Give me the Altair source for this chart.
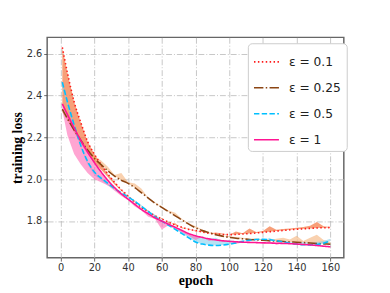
import altair as alt
import pandas as pd

epochs = [1, 4, 8, 12, 16, 20, 24, 28, 32, 36, 40, 44, 48, 52, 56, 60, 64, 68, 72, 76, 80,
          84, 88, 92, 96, 100, 104, 108, 112, 116, 120, 124, 128, 132, 136, 140, 144, 148, 152, 156, 160]

labels = ["ε = 0.1", "ε = 0.25", "ε = 0.5", "ε = 1"]

fit_01 = [2.63, 2.51, 2.37, 2.27, 2.18, 2.12, 2.07, 2.025, 1.985, 1.95, 1.92, 1.89, 1.865, 1.845, 1.825, 1.81,
          1.795, 1.78, 1.77, 1.76, 1.755, 1.748, 1.742, 1.738, 1.736, 1.735, 1.736, 1.738, 1.740, 1.743, 1.746,
          1.749, 1.752, 1.755, 1.758, 1.761, 1.763, 1.765, 1.767, 1.768, 1.769]
raw_01 = [2.36, 2.29, 2.225, 2.17, 2.12, 2.08, 2.045, 2.01, 1.975, 1.945, 1.915, 1.895, 1.86, 1.85, 1.82, 1.815,
          1.79, 1.79, 1.765, 1.765, 1.75, 1.755, 1.74, 1.745, 1.74, 1.735, 1.75, 1.742, 1.765, 1.748, 1.752,
          1.775, 1.758, 1.762, 1.765, 1.768, 1.772, 1.778, 1.795, 1.775, 1.772]

fit_025 = [2.335, 2.29, 2.235, 2.185, 2.14, 2.10, 2.07, 2.04, 2.015, 1.995, 1.98, 1.96, 1.935, 1.91, 1.885, 1.865,
           1.845, 1.825, 1.805, 1.785, 1.768, 1.755, 1.745, 1.735, 1.728, 1.722, 1.718, 1.715, 1.712, 1.71, 1.708,
           1.706, 1.704, 1.702, 1.70, 1.699, 1.697, 1.695, 1.693, 1.691, 1.689]
raw_025 = [2.32, 2.28, 2.23, 2.19, 2.145, 2.11, 2.09, 2.06, 2.02, 2.03, 1.985, 1.98, 1.955, 1.91, 1.89, 1.87,
           1.85, 1.84, 1.81, 1.79, 1.775, 1.76, 1.748, 1.74, 1.73, 1.728, 1.722, 1.72, 1.715, 1.718, 1.712,
           1.71, 1.715, 1.72, 1.712, 1.73, 1.705, 1.72, 1.735, 1.71, 1.70]

fit_05 = [2.464, 2.37, 2.26, 2.16, 2.085, 2.035, 2.005, 1.98, 1.955, 1.935, 1.915, 1.895, 1.87, 1.845, 1.82, 1.80,
          1.78, 1.76, 1.74, 1.72, 1.70, 1.69, 1.685, 1.683, 1.685, 1.689, 1.695, 1.702, 1.708, 1.712, 1.713,
          1.711, 1.706, 1.70, 1.695, 1.69, 1.687, 1.686, 1.688, 1.694, 1.705]
raw_05 = [2.44, 2.35, 2.24, 2.15, 2.07, 2.02, 1.995, 1.97, 1.955, 1.93, 1.91, 1.90, 1.875, 1.85, 1.83, 1.805,
          1.79, 1.765, 1.75, 1.735, 1.725, 1.72, 1.715, 1.72, 1.705, 1.71, 1.70, 1.71, 1.705, 1.715, 1.705,
          1.72, 1.70, 1.705, 1.70, 1.695, 1.70, 1.695, 1.70, 1.705, 1.715]

fit_1 = [2.36, 2.31, 2.245, 2.185, 2.13, 2.08, 2.035, 1.995, 1.96, 1.93, 1.905, 1.88, 1.855, 1.835, 1.815, 1.80,
         1.785, 1.77, 1.755, 1.74, 1.73, 1.722, 1.715, 1.71, 1.706, 1.703, 1.701, 1.699, 1.698, 1.697, 1.696,
         1.695, 1.694, 1.693, 1.692, 1.69, 1.688, 1.686, 1.683, 1.68, 1.677]
raw_1 = [2.33, 2.21, 2.12, 2.07, 2.03, 2.00, 1.985, 1.97, 1.945, 1.92, 1.90, 1.87, 1.85, 1.82, 1.81, 1.76,
         1.78, 1.765, 1.745, 1.73, 1.71, 1.725, 1.705, 1.71, 1.70, 1.705, 1.69, 1.70, 1.695, 1.70, 1.69,
         1.705, 1.685, 1.695, 1.69, 1.692, 1.69, 1.685, 1.69, 1.68, 1.68]

line_colors = ["#ff1a1a", "#8b4513", "#00bfff", "#ff1493"]
fill_colors = ["#f47a45", "#f4a460", "#87ceeb", "#ff69b4"]
fill_opac = [0.72, 0.5, 0.6, 0.6]
dashes = [[1.5, 2.5], [9.6, 2.4, 1.5, 2.4], [5.5, 2.4], [1, 0]]

fits = [fit_01, fit_025, fit_05, fit_1]
raws = [raw_01, raw_025, raw_05, raw_1]

rows = []
for lab, f, r in zip(labels, fits, raws):
    for e, fv, rv in zip(epochs, f, r):
        rows.append({"epoch": e, "series": lab, "fit": fv, "raw": rv})
df = pd.DataFrame(rows)

xscale = alt.Scale(domain=[-8, 168], nice=False, zero=False)
yscale = alt.Scale(domain=[1.625, 2.678], nice=False, zero=False)

xax = alt.Axis(values=list(range(0, 161, 20)), title="epoch", format="d",
               titleY=27, titleBaseline="alphabetic")
yax = alt.Axis(values=[1.8, 2.0, 2.2, 2.4, 2.6], title="training loss", format=".1f")

base = alt.Chart(df)

areas = []
for lab, fc, op in zip(labels, fill_colors, fill_opac):
    areas.append(
        base.transform_filter(alt.datum.series == lab)
        .mark_area(color=fc, opacity=op, interpolate="linear")
        .encode(
            x=alt.X("epoch:Q", scale=xscale, axis=xax),
            y=alt.Y("raw:Q", scale=yscale, axis=yax),
            y2="fit:Q",
        )
    )

leg = alt.Legend(
    title=None, orient="none", legendX=205, legendY=6,
    symbolType="stroke", symbolSize=650, symbolStrokeWidth=1.6,
    labelFont="DejaVu Sans", labelFontSize=12.5, labelColor="#222",
    fillColor="white", strokeColor="#cccccc", cornerRadius=4,
    padding=5, rowPadding=5.5, labelOffset=9,
)

lines = base.mark_line(strokeWidth=1.6, interpolate="monotone").encode(
    x=alt.X("epoch:Q", scale=xscale, axis=xax),
    y=alt.Y("fit:Q", scale=yscale, axis=yax),
    color=alt.Color("series:N", scale=alt.Scale(domain=labels, range=line_colors), legend=leg),
    strokeDash=alt.StrokeDash("series:N", scale=alt.Scale(domain=labels, range=dashes), legend=leg),
)

chart = alt.layer(*areas, lines).properties(
    width=303, height=225,
    autosize=alt.AutoSizeParams(type="none"),
    padding={"left": 40, "top": 27, "right": 39, "bottom": 29},
).configure_view(
    stroke="#666666", strokeWidth=1.5
).configure_axis(
    grid=True, gridColor="#b8b8b8", gridDash=[6, 2, 1, 2], gridWidth=0.8,
    domain=False, tickColor="#444", tickSize=3.5, tickWidth=0.8,
    labelFont="DejaVu Sans", labelFontSize=10, labelColor="#333", labelPadding=2,
    titleFont="Liberation Serif", titleFontSize=14, titleFontWeight="bold", titleColor="#000",
    titlePadding=2,
)

chart.save("out.html", embed_options={"renderer": "svg", "actions": False})
